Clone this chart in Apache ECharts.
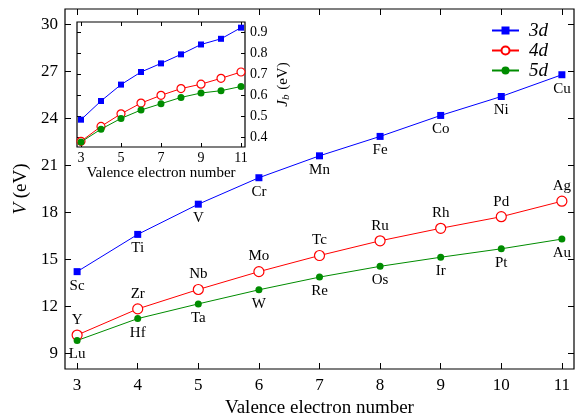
<!DOCTYPE html>
<html><head><meta charset="utf-8">
<script src="https://cdn.jsdelivr.net/npm/echarts@6/dist/echarts.min.js"></script>
<style>html,body{margin:0;padding:0;background:#fff}#c{width:577px;height:418px}</style>
</head><body><div id="c"></div>
<script>
const valence = [3,4,5,6,7,8,9,10,11];
const names3d = ['Sc','Ti','V','Cr','Mn','Fe','Co','Ni','Cu'];
const names4d = ['Y','Zr','Nb','Mo','Tc','Ru','Rh','Pd','Ag'];
const names5d = ['Lu','Hf','Ta','W','Re','Os','Ir','Pt','Au'];
const V3d = [14.22,16.6,18.53,20.22,21.62,22.86,24.2,25.41,26.8];
const V4d = [10.17,11.84,13.08,14.22,15.25,16.19,16.99,17.73,18.72];
const V5d = [9.82,11.22,12.16,13.06,13.87,14.56,15.14,15.68,16.3];
const Jb3d = [0.485,0.574,0.652,0.712,0.753,0.796,0.843,0.870,0.923];
const Jb4d = [0.382,0.453,0.513,0.564,0.601,0.633,0.654,0.682,0.712];
const Jb5d = [0.379,0.440,0.491,0.531,0.561,0.591,0.612,0.623,0.643];
const mainXTicks = [3,4,5,6,7,8,9,10,11];
const mainYTicks = [9,12,15,18,21,24,27,30];
const insetXTicks = [3,5,7,9,11];
const insetYTicks = [0.4,0.5,0.6,0.7,0.8,0.9];

const FONT = 'Liberation Serif';
const pairs = (ys) => valence.map((x,i)=>[x,ys[i]]);
const BLUE='#0000ff', RED='#ff0000', GREEN='#008c00';

function axisBase(extra){
  return Object.assign({
    type:'value', axisLine:{show:false}, splitLine:{show:false},
    axisTick:{inside:true,length:6,lineStyle:{color:'#000'}},
    axisLabel:{show:false}
  }, extra);
}

const chart = echarts.init(document.getElementById('c'), null, {renderer:'canvas'});
chart.setOption({
  animation:false,
  backgroundColor:'#fff',
  textStyle:{fontFamily:FONT},
  grid:[
    {left:65, top:9, right:3, bottom:49, show:true, borderColor:'#000', borderWidth:1.2, backgroundColor:'transparent', outerBoundsMode:'none', containLabel:false},
    {left:77, top:22, width:168, height:125, show:true, borderColor:'#000', borderWidth:1.2, backgroundColor:'#fff', z:5, outerBoundsMode:'none', containLabel:false}
  ],
  legend:{
    orient:'vertical', left:486, top:16, itemWidth:27, itemHeight:10, itemGap:1,
    textStyle:{fontFamily:FONT,fontSize:19,fontStyle:'italic',color:'#000',padding:[0,0,0,5]},
    data:['3d','4d','5d']
  },
  xAxis:[
    axisBase({gridIndex:0, position:'bottom', min:2.8, max:11.2,
      axisTick:{inside:true,length:6,customValues:mainXTicks,lineStyle:{color:'#000'}},
      axisLabel:{show:true, customValues:mainXTicks, fontFamily:FONT, fontSize:17, color:'#000', margin:8},
      name:'Valence electron number', nameLocation:'middle', nameGap:28,
      nameTextStyle:{fontFamily:FONT,fontSize:19,color:'#000'}}),
    axisBase({gridIndex:0, position:'top', min:2.8, max:11.2,
      axisTick:{inside:true,length:6,customValues:mainXTicks,lineStyle:{color:'#000'}}}),
    axisBase({gridIndex:1, position:'bottom', min:2.8, max:11.2,
      axisTick:{inside:true,length:4,customValues:insetXTicks,lineStyle:{color:'#000'}},
      axisLabel:{show:true, customValues:insetXTicks, fontFamily:FONT, fontSize:14, color:'#000', margin:4},
      name:'Valence electron number', nameLocation:'middle', nameGap:19,
      nameTextStyle:{fontFamily:FONT,fontSize:15,color:'#000'}, z:6}),
    axisBase({gridIndex:1, position:'top', min:2.8, max:11.2,
      axisTick:{inside:true,length:4,customValues:insetXTicks,lineStyle:{color:'#000'}}, z:6})
  ],
  yAxis:[
    axisBase({gridIndex:0, position:'left', min:8, max:31,
      axisTick:{inside:true,length:6,customValues:mainYTicks,lineStyle:{color:'#000'}},
      axisLabel:{show:true, customValues:mainYTicks, fontFamily:FONT, fontSize:17, color:'#000', margin:7},
      name:'{i|V} (eV)', nameLocation:'middle', nameGap:34, nameRotate:90,
      nameTextStyle:{fontFamily:FONT,fontSize:19,color:'#000',rich:{i:{fontFamily:FONT,fontSize:19,fontStyle:'italic',color:'#000'}}}}),
    axisBase({gridIndex:0, position:'right', min:8, max:31,
      axisTick:{inside:true,length:6,customValues:mainYTicks,lineStyle:{color:'#000'}}}),
    axisBase({gridIndex:1, position:'right', min:0.355, max:0.95,
      axisTick:{inside:true,length:4,customValues:insetYTicks,lineStyle:{color:'#000'}},
      axisLabel:{show:true, customValues:insetYTicks, fontFamily:FONT, fontSize:14, color:'#000', margin:5,
        formatter:(v)=>v.toFixed(1)},
      name:'{i|J}{s|b} (eV)', nameLocation:'middle', nameGap:30, nameRotate:90,
      nameTextStyle:{fontFamily:FONT,fontSize:15,color:'#000',padding:[0,0,0,0],
        rich:{i:{fontFamily:FONT,fontSize:15,fontStyle:'italic',color:'#000'},
              s:{fontFamily:FONT,fontSize:11,fontStyle:'italic',color:'#000',padding:[6,1,0,0]}}}, z:6}),
    axisBase({gridIndex:1, position:'left', min:0.355, max:0.95,
      axisTick:{inside:true,length:4,customValues:insetYTicks,lineStyle:{color:'#000'}}, z:6})
  ],
  series:[
    {name:'3d', type:'line', xAxisIndex:0, yAxisIndex:0, data:pairs(V3d),
      symbol:'rect', symbolSize:7, lineStyle:{color:BLUE,width:1}, itemStyle:{color:BLUE},
      label:{show:true, position:'bottom', distance:3, fontFamily:FONT, fontSize:15, color:'#000',
        formatter:(p)=>names3d[p.dataIndex]}},
    {name:'4d', type:'line', xAxisIndex:0, yAxisIndex:0, data:pairs(V4d),
      symbol:'circle', symbolSize:10, lineStyle:{color:RED,width:1},
      itemStyle:{color:'#fff', borderColor:RED, borderWidth:1.2},
      label:{show:true, position:'top', distance:2, fontFamily:FONT, fontSize:15, color:'#000',
        formatter:(p)=>names4d[p.dataIndex]}},
    {name:'5d', type:'line', xAxisIndex:0, yAxisIndex:0, data:pairs(V5d),
      symbol:'circle', symbolSize:7, lineStyle:{color:GREEN,width:1}, itemStyle:{color:GREEN},
      label:{show:true, position:'bottom', distance:3, fontFamily:FONT, fontSize:15, color:'#000',
        formatter:(p)=>names5d[p.dataIndex]}},
    {name:'3d', type:'line', xAxisIndex:2, yAxisIndex:2, data:pairs(Jb3d), z:7,
      symbol:'rect', symbolSize:6, lineStyle:{color:BLUE,width:1}, itemStyle:{color:BLUE}},
    {name:'4d', type:'line', xAxisIndex:2, yAxisIndex:2, data:pairs(Jb4d), z:7,
      symbol:'circle', symbolSize:8, lineStyle:{color:RED,width:1},
      itemStyle:{color:'#fff', borderColor:RED, borderWidth:1.2}},
    {name:'5d', type:'line', xAxisIndex:2, yAxisIndex:2, data:pairs(Jb5d), z:8,
      symbol:'circle', symbolSize:7, lineStyle:{color:GREEN,width:1}, itemStyle:{color:GREEN}}
  ]
});
</script></body></html>
